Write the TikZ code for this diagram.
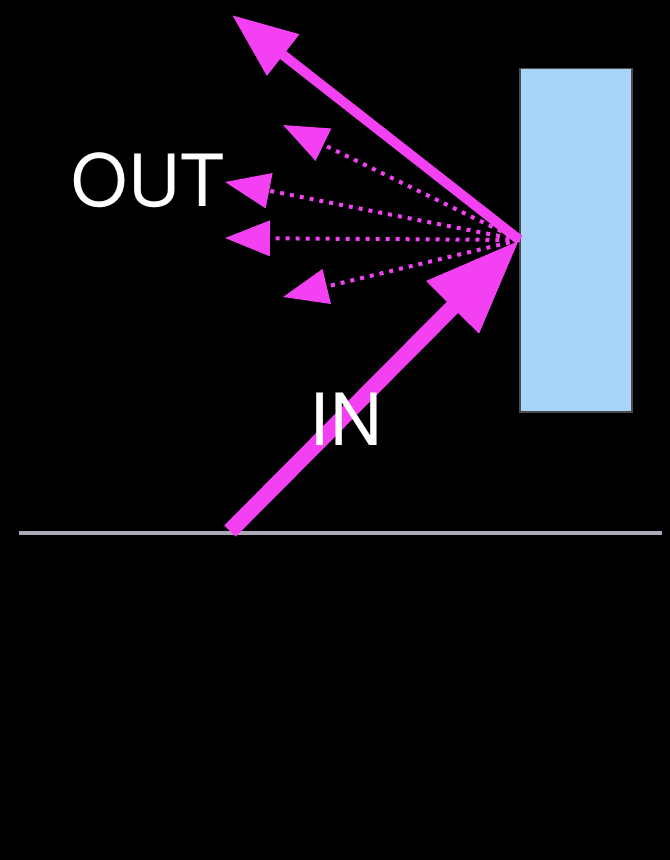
\documentclass[tikz,border=0pt]{standalone}
\usepackage{fontspec}
\setmainfont{TeX Gyre Heros}
\usepackage{xcolor}
\usetikzlibrary{arrows.meta, positioning}

\definecolor{rayMagenta}{RGB}{243,64,243}
\definecolor{wallBlue}{RGB}{168,212,250}
\definecolor{floorGrey}{RGB}{170,170,184}

\begin{document}
\begin{tikzpicture}[
  x=0.02cm, y=-0.02cm,
  every node/.style={font=\fontsize{41}{41}\selectfont, text=white},
  wallblock/.style={draw=black!70, line width=0.6pt, fill=wallBlue,
                    minimum width=2.24cm, minimum height=6.88cm, inner sep=0pt},
  inray/.style ={rayMagenta, line width=0.32cm,
                 -{Triangle[length=1.9cm, width=1.4cm]}},
  outray/.style={rayMagenta, line width=0.2cm,
                 -{Triangle[length=1.3cm, width=1.0cm]}},
  scatray/.style={rayMagenta, line width=0.08cm, dash pattern=on 0.08cm off 0.12cm,
                  -{Triangle[length=0.9cm, width=0.7cm]}},
  floorline/.style={floorGrey, line width=0.08cm},
]

%% ── Background and frame ────────────────────────────────────────────────────
\fill[black] (0,0) rectangle (670,860);
\useasboundingbox (0,0) rectangle (670,860);

%% ── Wall and floor ──────────────────────────────────────────────────────────
\node[wallblock] (wall) at (576, 240) {};
\coordinate (floorL) at (19, 533);
\coordinate (floorR) at (662, 533);
\draw[floorline] (floorL) -- (floorR);

%% ── Ray ends ────────────────────────────────────────────────────────────────
\coordinate (inStart)  at (230, 531);
\coordinate (outMain)  at (232, 15);
\coordinate (scatA)    at (283, 125);
\coordinate (scatB)    at (225, 182);
\coordinate (scatC)    at (225, 238);
\coordinate (scatD)    at (283, 297);

%% ── Rays ────────────────────────────────────────────────────────────────────
\draw[scatray] (wall.west) -- (scatA);
\draw[scatray] (wall.west) -- (scatB);
\draw[scatray] (wall.west) -- (scatC);
\draw[scatray] (wall.west) -- (scatD);
\draw[outray]  (wall.west) -- (outMain);
\draw[inray]   (inStart) -- (wall.west);

%% ── Labels ──────────────────────────────────────────────────────────────────
\node (outLabel) at (148, 180) {OUT};
\node (inLabel)  at (346, 419) {IN};

\end{tikzpicture}
\end{document}
